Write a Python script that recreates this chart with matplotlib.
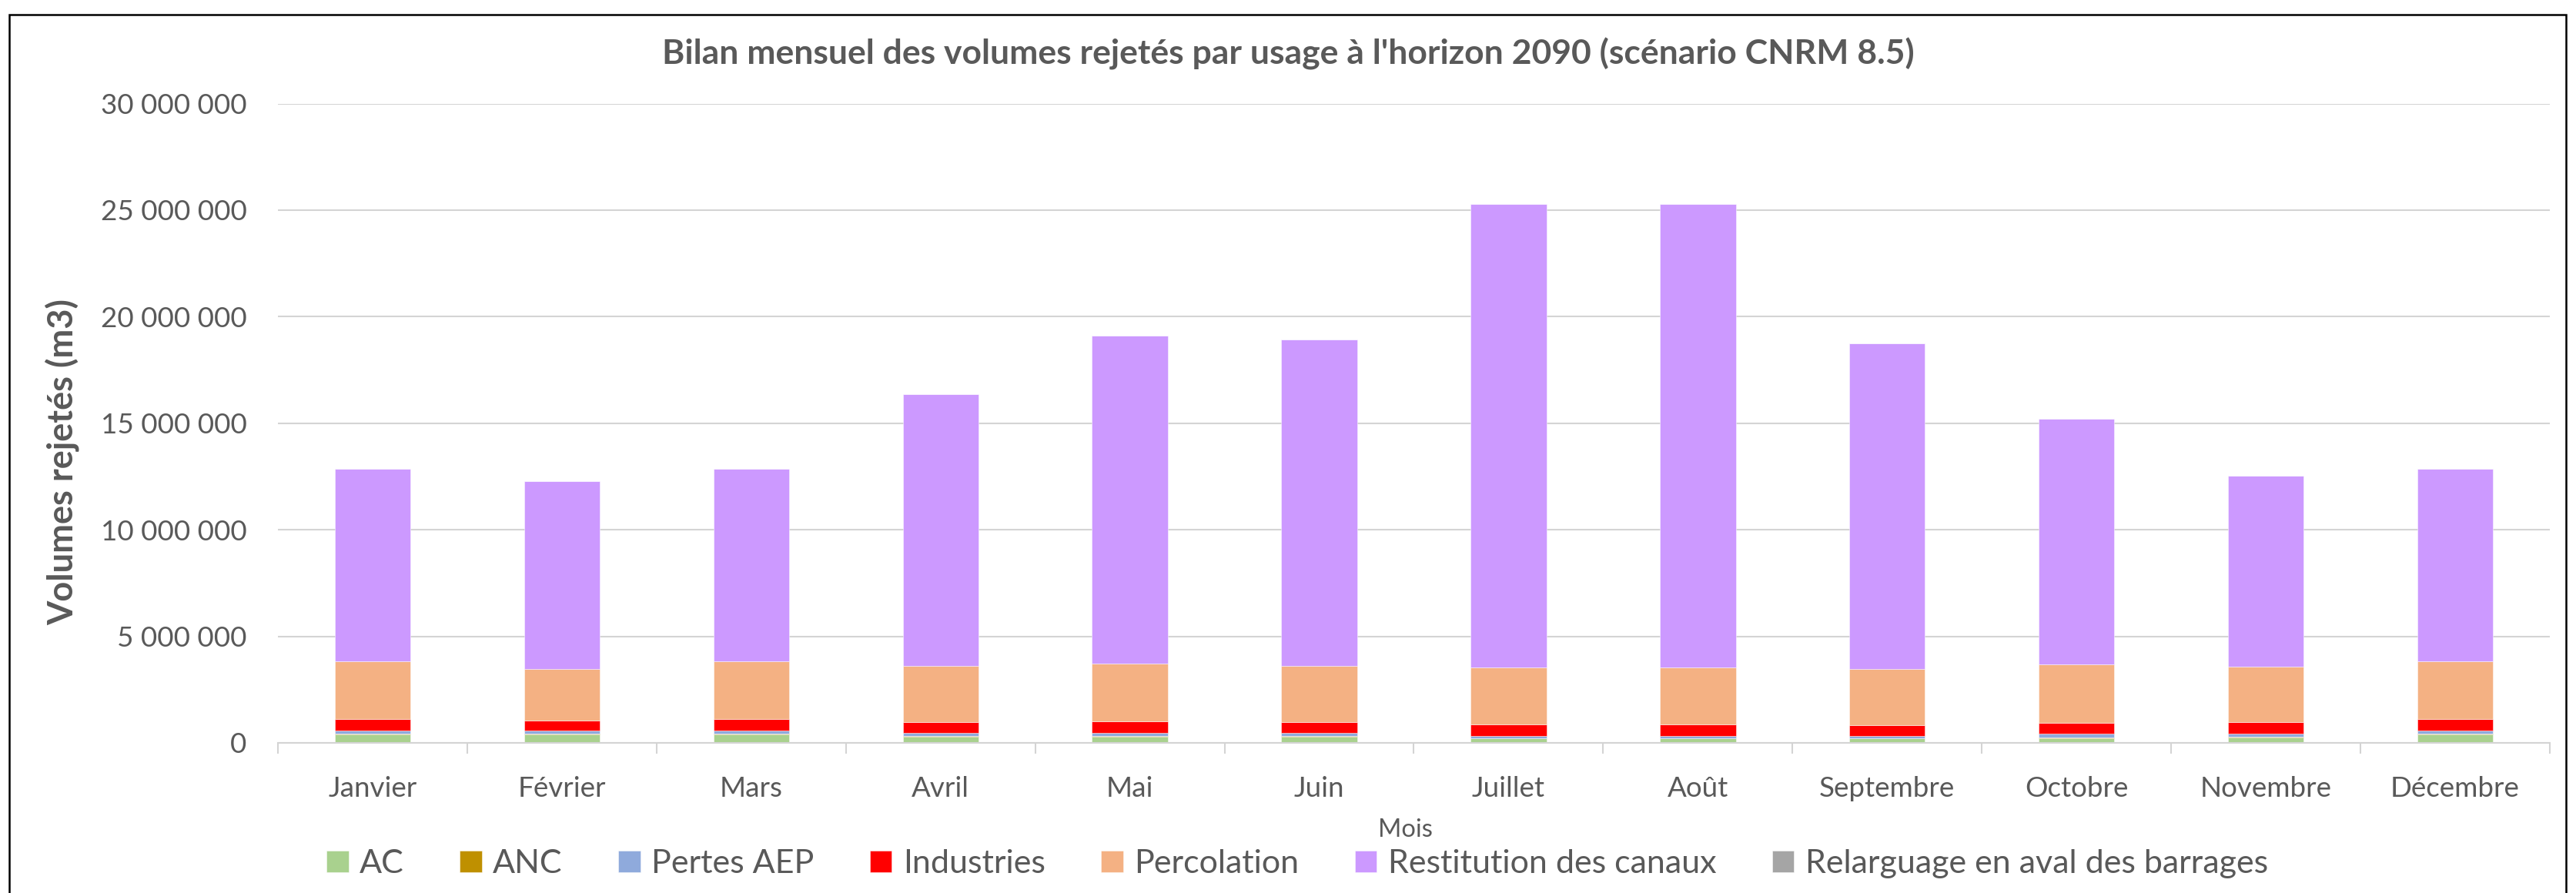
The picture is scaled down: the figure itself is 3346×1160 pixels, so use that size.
import matplotlib
matplotlib.use("Agg")
import matplotlib.pyplot as plt
from matplotlib.ticker import FuncFormatter, FixedLocator
from matplotlib.patches import Rectangle
import numpy as np

plt.rcParams['font.family'] = ['Lato', 'DejaVu Sans']

months = ["Janvier", "Février", "Mars", "Avril", "Mai", "Juin", "Juillet",
          "Août", "Septembre", "Octobre", "Novembre", "Décembre"]

ac = [400000, 390000, 390000, 290000, 290000, 290000, 200000, 200000, 200000, 200000, 265000, 390000]
anc = [36000, 36000, 36000, 36000, 36000, 36000, 24000, 24000, 24000, 60000, 36000, 36000]
pertes_aep = [130000, 145000, 145000, 145000, 145000, 145000, 96000, 96000, 96000, 157000, 145000, 157000]
industries = [570000, 480000, 540000, 520000, 550000, 520000, 550000, 550000, 520000, 530000, 540000, 530000]
percolation = [2690000, 2430000, 2710000, 2630000, 2710000, 2630000, 2660000, 2660000, 2610000, 2720000, 2600000, 2710000]
restitution = [9040000, 8810000, 9050000, 12760000, 15390000, 15290000, 21750000, 21750000, 15310000, 11550000, 8960000, 9020000]
relarguage = [0, 0, 0, 0, 0, 0, 0, 0, 0, 0, 0, 0]

series_names = ["AC", "ANC", "Pertes AEP", "Industries", "Percolation",
                "Restitution des canaux", "Relarguage en aval des barrages"]
series_values = [ac, anc, pertes_aep, industries, percolation, restitution, relarguage]
colors = ["#A9D18E", "#BF9000", "#8FAADC", "#FF0000", "#F4B183", "#CC99FF", "#A5A5A5"]

W, H = 3346, 1160
dpi = 100
fig = plt.figure(figsize=(W / dpi, H / dpi), dpi=dpi)
fig.patch.set_facecolor("white")

ax = fig.add_axes([361 / W, 1 - 965 / H, (3312 - 361) / W, (965 - 134.5) / H])

x = np.arange(len(months))
bottom = np.zeros(len(months))
handles = []
for name, vals, c in zip(series_names, series_values, colors):
    vals = np.array(vals, dtype=float)
    b = ax.bar(x, vals, width=0.4, bottom=bottom, color=c, label=name,
               edgecolor=(1, 1, 1, 0.55), linewidth=0.6, zorder=3)
    bottom += vals
    handles.append(b)

txt = "#595959"
ax.set_xlim(-0.5, len(months) - 0.5)
ax.set_ylim(0, 30000000)
ax.yaxis.set_major_locator(FixedLocator(np.arange(0, 30000001, 5000000)))
ax.yaxis.set_major_formatter(FuncFormatter(lambda v, p: f"{int(round(v)):,}".replace(",", " ")))
ax.grid(axis="y", color="#d4d4d4", linewidth=1.5, zorder=0)
ax.set_axisbelow(True)
for s in ["top", "right", "left"]:
    ax.spines[s].set_visible(False)
ax.spines["bottom"].set_color("#d4d4d4")
ax.spines["bottom"].set_linewidth(1.5)
ax.spines["bottom"].set_zorder(4)

ax.set_xticks(x)
ax.set_xticklabels(months)
ax.set_xticks(np.arange(-0.5, len(months), 1.0), minor=True)
ax.tick_params(axis="x", which="major", length=0, pad=31, labelsize=26.5, labelcolor=txt)
ax.tick_params(axis="x", which="minor", length=10, width=1.5, color="#d4d4d4")
ax.tick_params(axis="y", length=0, pad=29, labelsize=26.5, labelcolor=txt)

fig.text(1825 / W, 1 - 1078 / H, "Mois", ha="center", va="center", fontsize=23.5, color=txt)
fig.text(81 / W, 1 - 600 / H, "Volumes rejetés (m3)", ha="center", va="center",
         rotation=90, fontsize=32.5, fontweight="bold", color=txt)
fig.text(0.5, 1 - 70 / H,
         "Bilan mensuel des volumes rejetés par usage à l'horizon 2090 (scénario CNRM 8.5)",
         ha="center", va="center", fontsize=32, fontweight="bold", color=txt)

leg = fig.legend(handles=handles, labels=series_names, loc="center",
                 bbox_to_anchor=(1685 / W, 1 - 1122 / H), ncol=7, frameon=False,
                 fontsize=31, handlelength=0.66, handleheight=0.65,
                 handletextpad=0.34, columnspacing=1.68, borderaxespad=0)
for t in leg.get_texts():
    t.set_color(txt)

fig.patches.append(Rectangle((12 / W, -0.02), (3333 - 12) / W, 1 - 19 / H + 0.02,
                             transform=fig.transFigure, fill=False,
                             edgecolor="black", linewidth=1.8, zorder=10))

fig.savefig("out.png", dpi=dpi, facecolor="white")
